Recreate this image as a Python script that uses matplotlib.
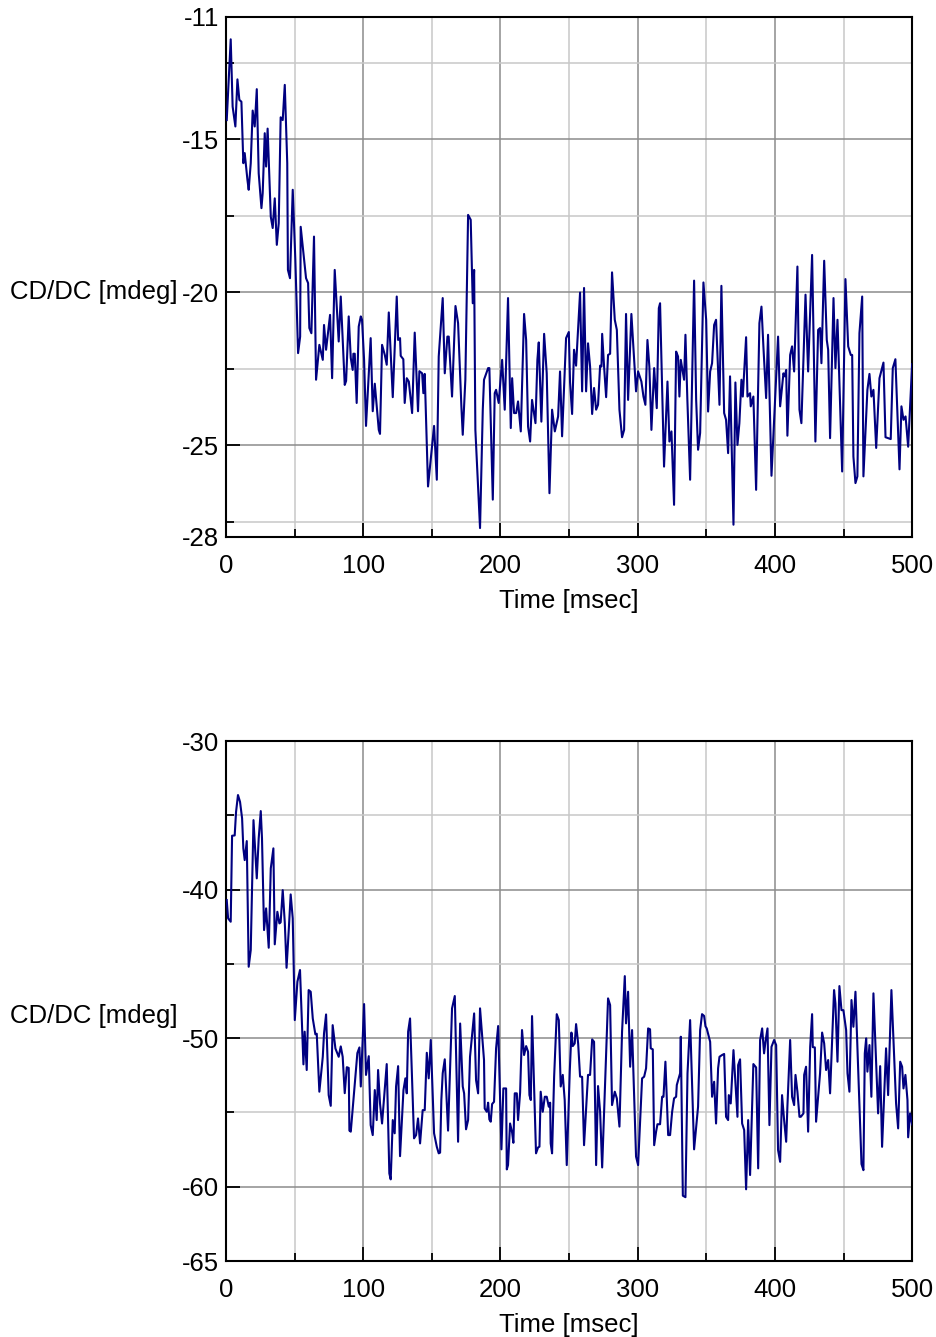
import numpy as np
import matplotlib
matplotlib.use('Agg')
import matplotlib.pyplot as plt
from matplotlib.ticker import FixedLocator

plt.rcParams['font.family'] = ['Liberation Sans', 'DejaVu Sans']

# Top panel: CD/DC trace (time in msec, signal in mdeg)
t1 = [0.5, 3.4, 4.8, 6.8, 8.3, 9.7, 11.2, 12.6, 13.6, 15.6, 16.5, 18.0, 19.4, 20.9, 22.4,
      23.8, 25.8, 26.7, 28.2, 29.2, 30.3, 32.6, 34.0, 35.5, 37.0, 38.4, 39.8, 41.3, 42.8,
      44.6, 45.1, 46.6, 48.6, 50.5, 52.5, 54.0, 54.4, 58.3, 59.8, 60.7, 62.2, 64.1, 65.6,
      68.0, 70.5, 71.4, 72.9, 75.8, 77.3, 79.2, 82.1, 83.6, 86.5, 87.5, 89.4, 90.9, 92.3,
      92.8, 93.8, 95.2, 96.7, 98.2, 99.1, 100.6, 102.0, 105.4, 106.9, 108.4, 109.8, 111.3,
      112.2, 113.7, 115.7, 117.1, 118.6, 121.5, 124.4, 125.4, 126.8, 127.3, 129.2, 130.2,
      131.7, 133.2, 135.6, 137.5, 139.9, 140.9, 142.9, 143.8, 144.8, 147.2, 151.6, 153.6,
      155.0, 157.9, 159.4, 161.3, 162.3, 164.7, 167.2, 169.1, 171.5, 172.5, 174.4, 176.4,
      178.3, 179.8, 180.8, 181.7, 185.1, 187.1, 188.0, 191.0, 191.9, 194.4, 195.8, 196.8,
      198.7, 201.2, 203.1, 205.5, 207.5, 208.5, 209.9, 211.4, 212.8, 214.8, 217.2, 218.7,
      220.1, 221.6, 223.0, 225.5, 226.9, 227.9, 229.8, 231.8, 233.7, 235.7, 237.6, 239.6,
      242.0, 243.4, 244.9, 246.4, 247.8, 249.8, 250.7, 252.2, 253.6, 255.1, 258.0, 259.5,
      260.9, 262.4, 263.8, 265.3, 266.8, 268.2, 269.7, 271.1, 272.6, 273.6, 274.1, 275.5,
      277.0, 278.4, 279.9, 281.3, 283.3, 284.8, 286.7, 288.6, 290.1, 291.5, 293.0, 295.4,
      298.8, 300.3, 302.7, 304.2, 305.6, 307.1, 308.5, 310.0, 312.0, 313.9, 315.4, 316.3,
      319.2, 321.7, 323.1, 324.6, 326.5, 328.0, 329.4, 330.4, 331.4, 333.8, 334.8, 336.2,
      338.2, 341.1, 342.6, 344.0, 345.5, 347.9, 349.9, 351.3, 352.8, 354.2, 355.7, 357.1,
      359.6, 361.0, 363.0, 364.4, 365.9, 367.3, 369.8, 371.2, 372.7, 374.1, 375.6, 376.6,
      379.0, 380.0, 381.9, 382.4, 384.3, 386.3, 388.7, 390.2, 391.6, 393.6, 395.0, 397.5,
      402.3, 403.8, 406.2, 407.2, 408.2, 409.1, 411.1, 412.5, 414.0, 416.4, 417.9, 419.3,
      422.3, 424.2, 427.1, 429.5, 431.5, 432.9, 433.9, 435.9, 437.8, 438.8, 440.2, 442.7,
      444.1, 445.6, 449.0, 451.4, 453.4, 455.3, 456.3, 457.2, 458.7, 460.1, 461.6, 463.6,
      464.5, 467.4, 468.9, 470.3, 471.8, 473.8, 476.2, 479.1, 480.6, 484.4, 485.9, 487.8,
      490.8, 492.2, 493.7, 495.2, 497.1, 500.0]
cd1 = [-14.37, -11.73, -13.93, -14.58, -13.04, -13.71, -13.77, -15.78, -15.45, -16.33, -16.65,
       -15.78, -14.06, -14.58, -13.36, -16.11, -17.25, -16.76, -14.80, -15.89, -14.65, -17.53,
       -17.90, -16.93, -18.45, -17.74, -14.28, -14.37, -13.22, -15.78, -19.27, -19.54, -16.65,
       -18.94, -21.99, -21.45, -17.86, -19.54, -19.70, -21.17, -21.34, -18.18, -22.86, -21.72,
       -22.21, -21.07, -21.88, -20.74, -22.81, -19.27, -21.61, -20.14, -23.03, -22.90, -20.79,
       -22.15, -22.54, -22.01, -22.01, -23.62, -21.12, -20.79, -20.90, -22.21, -24.37, -21.50,
       -23.89, -22.99, -23.73, -24.50, -24.63, -21.72, -22.05, -22.37, -20.66, -23.43, -20.14,
       -21.56, -21.50, -22.08, -22.19, -23.62, -22.81, -22.92, -23.95, -21.32, -23.89, -22.58,
       -22.65, -23.30, -22.67, -26.35, -24.37, -26.13, -22.10, -20.19, -22.65, -21.45, -21.45,
       -23.41, -20.45, -21.01, -23.73, -24.66, -22.86, -17.47, -17.63, -20.36, -19.27, -24.50,
       -27.71, -23.84, -22.86, -22.48, -22.48, -26.78, -23.30, -23.19, -23.62, -22.21, -23.84,
       -20.19, -24.44, -22.81, -23.95, -23.95, -23.57, -24.55, -20.71, -21.56, -24.39, -24.88,
       -23.52, -24.28, -22.21, -21.64, -24.23, -21.36, -22.65, -26.57, -23.84, -24.55, -24.06,
       -22.59, -24.71, -23.08, -21.50, -21.30, -22.94, -23.98, -21.88, -22.40, -20.01, -23.24,
       -19.86, -23.24, -21.67, -22.43, -23.98, -23.13, -23.84, -23.68, -22.40, -22.43, -21.36,
       -22.43, -23.43, -22.05, -22.01, -19.35, -20.90, -21.23, -23.84, -24.74, -24.50, -20.71,
       -23.52, -20.71, -23.24, -22.59, -22.92, -23.41, -23.68, -21.56, -22.43, -24.50, -22.48,
       -23.79, -20.52, -20.36, -25.70, -22.92, -24.88, -24.55, -26.95, -21.94, -22.10, -23.41,
       -22.21, -22.86, -21.39, -23.52, -26.13, -19.62, -23.52, -25.15, -24.60, -19.68, -20.90,
       -23.90, -22.59, -22.32, -21.07, -20.90, -23.68, -19.79, -23.95, -24.17, -25.26, -22.75,
       -27.60, -22.95, -24.99, -24.28, -22.86, -23.41, -21.47, -23.41, -23.30, -23.73, -23.41,
       -26.46, -21.01, -20.47, -21.77, -23.46, -21.39, -26.00, -21.45, -23.73, -22.65, -22.75,
       -22.54, -24.69, -22.05, -21.77, -22.59, -19.16, -23.84, -24.28, -20.08, -22.59, -18.78,
       -24.88, -21.23, -21.17, -22.32, -18.97, -21.56, -21.88, -24.77, -20.19, -22.48, -20.90,
       -25.86, -19.57, -21.77, -22.05, -22.05, -25.37, -26.24, -26.02, -21.34, -20.14, -26.02,
       -23.19, -22.67, -23.41, -23.19, -25.09, -22.81, -22.30, -24.74, -24.80, -22.48, -22.19,
       -25.79, -23.73, -24.17, -24.06, -25.05, -22.35]

# Bottom panel: CD/DC trace
t2 = [0.5, 1.5, 3.4, 4.4, 6.3, 7.3, 8.7, 10.2, 11.7, 12.6, 13.6, 15.1, 16.5, 18.0, 20.0, 22.4,
      23.8, 25.3, 26.2, 27.7, 29.2, 31.1, 32.6, 34.5, 35.5, 37.4, 38.9, 39.8, 41.3, 42.8, 44.1,
      45.7, 47.1, 48.6, 50.1, 52.0, 53.9, 56.4, 57.3, 58.8, 60.2, 61.7, 63.2, 65.1, 66.1, 68.0,
      70.5, 71.4, 72.9, 74.8, 76.3, 77.7, 79.7, 82.1, 83.6, 85.0, 86.5, 88.0, 89.4, 89.9, 90.9,
      95.7, 97.2, 98.2, 100.6, 102.0, 104.0, 105.4, 106.9, 108.4, 109.8, 110.8, 112.2, 113.7,
      117.1, 119.0, 120.0, 121.5, 122.9, 123.9, 125.4, 126.8, 129.3, 130.7, 131.7, 132.7,
      134.1, 137.0, 138.5, 139.9, 141.4, 143.3, 144.8, 146.3, 147.7, 149.2, 151.6, 153.6,
      155.0, 156.0, 156.9, 157.9, 159.4, 161.8, 164.7, 166.7, 169.1, 170.6, 172.5, 173.5,
      174.9, 176.4, 177.8, 180.8, 182.2, 183.7, 185.1, 188.0, 188.5, 190.0, 191.0, 191.9,
      192.9, 193.9, 195.3, 196.8, 198.3, 200.7, 202.1, 204.1, 204.6, 205.5, 207.0, 208.5,
      209.4, 210.4, 211.9, 212.8, 214.3, 215.7, 217.2, 218.7, 220.1, 221.1, 222.1, 223.0,
      225.9, 227.4, 228.4, 229.3, 230.8, 232.3, 233.7, 235.2, 236.2, 236.6, 237.6, 239.1,
      241.0, 242.5, 243.9, 245.4, 246.8, 248.3, 250.5, 251.7, 252.7, 254.1, 255.1, 256.6,
      258.0, 259.5, 260.9, 263.8, 265.3, 266.8, 268.2, 269.7, 271.1, 272.6, 274.1, 278.4,
      279.9, 281.3, 283.3, 284.8, 286.7, 288.6, 290.6, 291.5, 293.0, 294.5, 295.9, 298.8,
      300.3, 303.2, 304.7, 306.1, 307.6, 309.0, 309.5, 311.0, 312.0, 313.4, 314.4, 316.3,
      317.8, 318.8, 320.2, 322.2, 323.6, 325.1, 326.5, 328.0, 328.5, 330.9, 331.4, 332.9,
      334.8, 336.3, 338.2, 341.1, 344.0, 345.5, 346.9, 348.4, 349.4, 350.3, 352.8, 354.2,
      355.7, 357.1, 358.6, 359.6, 361.5, 363.0, 364.4, 365.9, 366.4, 367.8, 369.8, 372.7,
      373.2, 374.6, 376.1, 377.6, 379.0, 380.5, 381.9, 384.3, 386.3, 387.8, 389.2, 390.7,
      392.1, 393.1, 394.6, 396.0, 397.5, 399.4, 400.9, 402.3, 403.8, 405.2, 406.7, 408.2,
      409.1, 411.1, 412.5, 414.0, 415.0, 416.4, 417.9, 418.9, 420.8, 421.3, 422.7, 424.2,
      425.7, 427.1, 427.6, 429.1, 430.0, 432.9, 434.4, 435.9, 437.3, 438.8, 440.2, 443.1,
      444.1, 445.6, 447.0, 448.5, 449.9, 451.9, 452.9, 454.3, 455.8, 457.2, 458.7, 460.1,
      463.1, 464.5, 465.5, 466.5, 467.4, 468.9, 470.3, 471.8, 475.2, 476.7, 478.1, 481.0,
      482.5, 484.9, 488.3, 489.8, 491.3, 492.7, 493.7, 495.1, 496.6, 497.1, 498.5, 500.0]
cd2 = [-40.70, -41.93, -42.16, -36.37, -36.35, -34.76, -33.63, -34.09, -35.20, -37.22, -38.01,
       -36.73, -45.19, -44.07, -35.32, -39.24, -36.55, -34.71, -36.55, -42.72, -41.26, -43.91,
       -38.57, -37.22, -43.68, -41.49, -42.27, -42.20, -40.03, -42.20, -45.26, -42.72, -40.32,
       -41.93, -48.78, -46.20, -45.41, -51.76, -49.56, -52.14, -46.76, -46.87, -48.67, -49.74,
       -49.70, -53.60, -51.25, -49.68, -48.40, -53.83, -54.55, -49.12, -50.69, -51.25, -50.55,
       -51.25, -53.70, -51.95, -52.00, -56.22, -56.29, -51.00, -50.62, -53.25, -47.70, -52.47,
       -51.21, -55.85, -56.52, -53.49, -55.51, -52.14, -54.39, -55.74, -51.74, -59.10, -59.50,
       -55.51, -56.40, -53.25, -51.88, -57.94, -53.49, -52.70, -53.71, -49.56, -48.67, -56.74,
       -56.52, -55.40, -57.08, -54.84, -54.84, -50.98, -52.70, -50.12, -56.40, -57.31, -57.75,
       -57.70, -54.16, -52.36, -51.42, -56.22, -47.99, -47.16, -56.97, -49.01, -53.25, -53.71,
       -56.13, -55.51, -51.25, -48.33, -52.82, -53.71, -47.99, -51.47, -54.73, -54.95, -54.34,
       -55.47, -55.62, -54.43, -54.28, -50.68, -49.18, -57.48, -53.38, -53.38, -58.83, -58.54,
       -55.74, -56.36, -57.04, -53.71, -53.71, -55.51, -53.67, -49.45, -51.13, -50.53, -50.91,
       -53.83, -54.16, -48.51, -57.75, -57.35, -57.30, -53.60, -54.95, -53.94, -53.94, -54.61,
       -54.34, -57.08, -57.75, -52.59, -48.38, -48.78, -53.25, -52.47, -54.16, -58.54, -52.20,
       -49.62, -50.53, -50.35, -49.05, -50.35, -52.58, -52.60, -57.20, -52.47, -52.47, -50.08,
       -50.24, -58.54, -53.22, -54.95, -58.70, -47.32, -47.77, -54.50, -53.60, -54.05, -55.95,
       -49.56, -45.82, -49.00, -46.87, -51.92, -49.45, -57.97, -58.54, -52.70, -52.59, -52.03,
       -49.34, -49.40, -50.68, -50.75, -57.20, -56.29, -55.79, -55.79, -53.94, -53.94, -51.58,
       -56.52, -56.52, -54.95, -54.05, -53.94, -53.15, -52.36, -49.90, -60.60, -60.70, -52.36,
       -48.78, -57.48, -54.61, -49.45, -48.38, -48.50, -49.20, -49.34, -50.24, -53.94, -52.93,
       -55.74, -52.02, -51.25, -51.13, -51.06, -55.29, -55.51, -53.83, -54.39, -50.80, -55.29,
       -51.81, -51.42, -55.74, -56.18, -60.17, -55.51, -59.21, -51.74, -51.97, -58.76, -50.12,
       -49.34, -51.02, -50.24, -49.34, -55.85, -50.58, -50.12, -50.46, -57.53, -58.32, -53.83,
       -55.51, -56.97, -54.61, -50.12, -53.94, -54.50, -52.47, -53.60, -55.29, -55.29, -55.06,
       -52.47, -51.92, -56.29, -50.58, -48.38, -50.60, -50.62, -55.62, -52.36, -49.62, -50.35,
       -52.14, -51.47, -53.71, -46.76, -47.66, -51.58, -46.49, -48.11, -48.11, -49.45, -52.36,
       -53.60, -47.43, -49.23, -46.87, -50.58, -58.47, -58.88, -51.02, -50.01, -52.25, -50.46,
       -53.94, -46.98, -55.06, -51.88, -57.31, -50.68, -53.83, -46.76, -54.39, -56.07, -51.58,
       -51.92, -53.38, -52.47, -54.16, -56.67, -55.06, -55.80]

x_major = [0, 100, 200, 300, 400, 500]
x_minor = [50, 150, 250, 350, 450]
y1_major = [-11, -15, -20, -25, -28]
y1_minor = [-12.5, -17.5, -22.5, -27.5]
y2_major = [-30, -40, -50, -60, -65]
y2_minor = [-35, -45, -55]

FS = 18.5
LINE_COLOR = '#000080'


def style_axis(ax, ymajor, yminor, ylim):
    ax.set_xlim(0, 500)
    ax.set_ylim(ylim)
    ax.xaxis.set_major_locator(FixedLocator(x_major))
    ax.xaxis.set_minor_locator(FixedLocator(x_minor))
    ax.yaxis.set_major_locator(FixedLocator(ymajor))
    ax.yaxis.set_minor_locator(FixedLocator(yminor))
    ax.set_yticklabels([str(v) for v in ymajor])
    ax.grid(which='major', color='#8c8c8c', linewidth=1.1, zorder=0)
    ax.grid(which='minor', color='#c8c8c8', linewidth=1.1, zorder=0)
    ax.set_axisbelow(True)
    ax.tick_params(which='major', direction='in', length=10, width=1.3,
                   labelsize=FS, top=False, right=False)
    ax.tick_params(which='minor', direction='in', length=6, width=1.3,
                   top=False, right=False)
    ax.tick_params(axis='x', which='major', pad=12.5)
    ax.tick_params(axis='y', which='major', pad=5)
    for s in ax.spines.values():
        s.set_linewidth(1.5)
        s.set_color('black')
    ax.set_xlabel('Time [msec]', fontsize=FS)
    ax.xaxis.label.set_va('center')
    ax.xaxis.set_label_coords(0.5, -0.123)
    ax.set_ylabel('CD/DC [mdeg]', fontsize=FS, rotation=0, ha='right', va='center')
    ax.yaxis.set_label_coords(-0.07, 0.472)


fig = plt.figure(figsize=(9.36, 13.37), dpi=100)
ax1 = fig.add_axes([0.2415, 0.5984, 0.733, 0.3889])
ax2 = fig.add_axes([0.2415, 0.0568, 0.733, 0.3889])

ax1.plot(t1, cd1, color=LINE_COLOR, linewidth=1.5, zorder=3)
style_axis(ax1, y1_major, y1_minor, (-28, -11))

ax2.plot(t2, cd2, color=LINE_COLOR, linewidth=1.5, zorder=3)
style_axis(ax2, y2_major, y2_minor, (-65, -30))

fig.savefig('out.png', dpi=100)
